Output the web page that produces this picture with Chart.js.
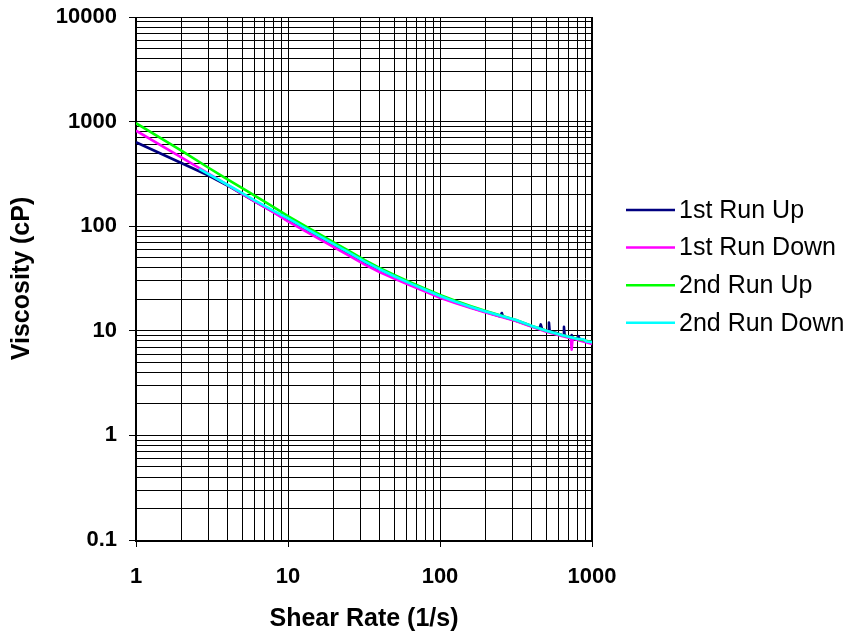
<!DOCTYPE html>
<html><head><meta charset="utf-8">
<script src="https://cdn.jsdelivr.net/npm/chart.js@4/dist/chart.umd.min.js"></script>
<style>html,body{margin:0;padding:0;background:#fff;}#wrap{width:852px;height:638px;}</style>
</head><body><div id="wrap"><canvas id="c" width="852" height="638"></canvas></div>
<script>
const seriesNames = ['1st Run Up', '1st Run Down', '2nd Run Up', '2nd Run Down'];
const seriesColors = ['#000080', '#FF00FF', '#00FF00', '#00FFFF'];
const xTickLabels = ['1', '10', '100', '1000'];
const yTickLabels = ['0.1', '1', '10', '100', '1000', '10000'];
const xTitle = 'Shear Rate (1/s)';
const yTitle = 'Viscosity (cP)';

const shear1Up = [1, 3, 4, 5, 6, 8, 10, 13, 16, 20, 25, 32, 40, 50, 63, 80, 100, 126, 160, 200, 250, 255, 260, 316, 398, 450, 460, 470, 501, 515, 521, 527, 600, 647, 654, 661, 725, 735, 745, 794, 813, 830, 900, 1000];
const visc1Up = [635, 305, 245, 203, 174, 137, 113, 91, 77, 64.5, 54, 44, 37.5, 32.3, 28, 24.2, 21, 18.7, 16.7, 15.1, 13.7, 14.8, 13.6, 12.5, 11.1, 10.4, 11.5, 10.3, 10.0, 9.9, 12.0, 9.9, 9.4, 9.0, 10.9, 9.0, 8.6, 9.1, 8.5, 8.4, 8.9, 8.3, 8.0, 7.6];

const shear1Down = [1, 2, 3, 4, 5, 6, 8, 10, 13, 16, 20, 25, 32, 40, 50, 63, 80, 100, 126, 160, 200, 251, 316, 398, 501, 631, 725, 735, 745, 794, 900, 1000];
const visc1Down = [820, 452, 319, 248, 204, 174, 136, 111, 89.5, 75.5, 63, 52.5, 43, 36.5, 31.5, 27.3, 23.7, 20.7, 18.4, 16.5, 15.0, 13.6, 12.4, 11.0, 9.8, 8.9, 8.5, 6.6, 8.4, 8.2, 7.8, 7.5];

const shear2Up = [1, 2, 3, 4, 5, 6, 8, 10, 13, 16, 20, 25, 32, 40, 50, 63, 80, 100, 126, 160, 200, 251, 316, 398, 501, 631, 794, 1000];
const visc2Up = [965, 524, 362, 281, 231, 197, 153, 125, 100, 84.5, 70, 58.3, 47.4, 40, 34.2, 29.4, 25.3, 22, 19.4, 17.2, 15.5, 14.0, 12.7, 11.2, 10.0, 9.1, 8.4, 7.8];

const shear2Down = [2.6, 3, 4, 5, 6, 8, 10, 13, 16, 20, 25, 32, 40, 50, 63, 80, 100, 126, 160, 200, 251, 316, 398, 501, 631, 794, 880, 920, 1000];
const visc2Down = [353, 315, 249, 207, 178, 141, 119, 96, 81, 67.4, 56.1, 45.8, 38.8, 33.2, 28.6, 24.7, 21.5, 19.0, 16.9, 15.3, 13.9, 12.7, 11.2, 10.0, 9.1, 8.4, 8.3, 7.9, 7.8];

const seriesX = [shear1Up, shear1Down, shear2Up, shear2Down];
const seriesY = [visc1Up, visc1Down, visc2Up, visc2Down];

const FONT = '"Liberation Sans", Arial, sans-serif';

function logTicks(minExp, maxExp) {
  const t = [];
  for (let e = minExp; e < maxExp; e++) {
    for (let k = 1; k <= 9; k++) t.push({ value: k * Math.pow(10, e), major: k === 1, dec: e });
  }
  t.push({ value: Math.pow(10, maxExp), major: true, dec: maxExp });
  return t;
}

const datasets = seriesNames.map((name, i) => ({
  label: name,
  data: seriesX[i].map((x, j) => ({ x: x, y: seriesY[i][j] })),
  borderColor: seriesColors[i],
  backgroundColor: seriesColors[i],
  borderWidth: 2.6,
  pointRadius: 0,
  tension: 0,
  fill: false,
  order: seriesNames.length - i
}));

const framePlugin = {
  id: 'frame',
  beforeDatasetsDraw(chart) {
    const { ctx, chartArea: a } = chart;
    ctx.save();
    ctx.fillStyle = '#000';
    ctx.fillRect(a.left - 1, a.top, 2, a.bottom - a.top + 2);
    ctx.fillRect(a.left - 1, a.bottom, a.right - a.left + 2, 2);
    ctx.fillRect(a.right - 1, a.top, 2, a.bottom - a.top + 2);
    ctx.fillRect(a.left - 1, a.top, a.right - a.left + 2, 1);
    ctx.restore();
  }
};

const legendPlugin = {
  id: 'sideLegend',
  afterDraw(chart) {
    const { ctx } = chart;
    ctx.save();
    chart.data.datasets.forEach((ds, i) => {
      const y = 210 + i * 37.6;
      ctx.strokeStyle = ds.borderColor;
      ctx.lineWidth = 2.5;
      ctx.beginPath();
      ctx.moveTo(626, y);
      ctx.lineTo(675, y);
      ctx.stroke();
      ctx.fillStyle = '#000';
      ctx.font = '25px ' + FONT;
      ctx.textBaseline = 'middle';
      ctx.textAlign = 'left';
      ctx.fillText(ds.label, 679, y + 1);
    });
    ctx.restore();
  }
};

const tickColorFn = (c) => (c.tick && c.tick.major) ? '#000' : 'rgba(0,0,0,0)';

new Chart(document.getElementById('c'), {
  type: 'line',
  data: { datasets: datasets },
  options: {
    responsive: false,
    animation: false,
    devicePixelRatio: 1,
    layout: { padding: { top: 17, right: 260, left: 0, bottom: 0 } },
    plugins: { legend: { display: false }, tooltip: { enabled: false } },
    elements: { line: { borderJoinStyle: 'round', borderCapStyle: 'butt' } },
    scales: {
      x: {
        type: 'logarithmic',
        position: 'bottom',
        min: 1, max: 1000,
        afterBuildTicks: (s) => { s.ticks = logTicks(0, 3); },
        afterFit: (s) => { s.height = 98; s.paddingLeft = 0; s.paddingRight = 0; },
        ticks: {
          autoSkip: false, maxRotation: 0, minRotation: 0,
          padding: 17, color: '#000',
          font: { family: FONT, size: 22, weight: 'bold' },
          callback: function (v, i, t) { return t[i].major ? xTickLabels[t[i].dec] : ''; }
        },
        grid: { color: '#000', lineWidth: 1, tickLength: 7, tickColor: tickColorFn, tickWidth: 1 },
        border: { display: false },
        title: { display: true, text: xTitle, color: '#000', font: { family: FONT, size: 25, weight: 'bold' }, padding: { top: 0, bottom: 4 } }
      },
      y: {
        type: 'logarithmic',
        position: 'left',
        min: 0.1, max: 10000,
        afterBuildTicks: (s) => { s.ticks = logTicks(-1, 4); },
        afterFit: (s) => { s.width = 136; s.paddingTop = 0; s.paddingBottom = 0; },
        ticks: {
          autoSkip: false, padding: 12, color: '#000',
          font: { family: FONT, size: 22, weight: 'bold' },
          callback: function (v, i, t) { return t[i].major ? yTickLabels[t[i].dec + 1] : ''; }
        },
        grid: { color: '#000', lineWidth: 1, tickLength: 7, tickColor: tickColorFn, tickWidth: 1 },
        border: { display: false },
        title: { display: true, text: yTitle, color: '#000', font: { family: FONT, size: 25, weight: 'bold' }, padding: { top: 7, bottom: 0 } }
      }
    }
  },
  plugins: [framePlugin, legendPlugin]
});
</script>
</body></html>
